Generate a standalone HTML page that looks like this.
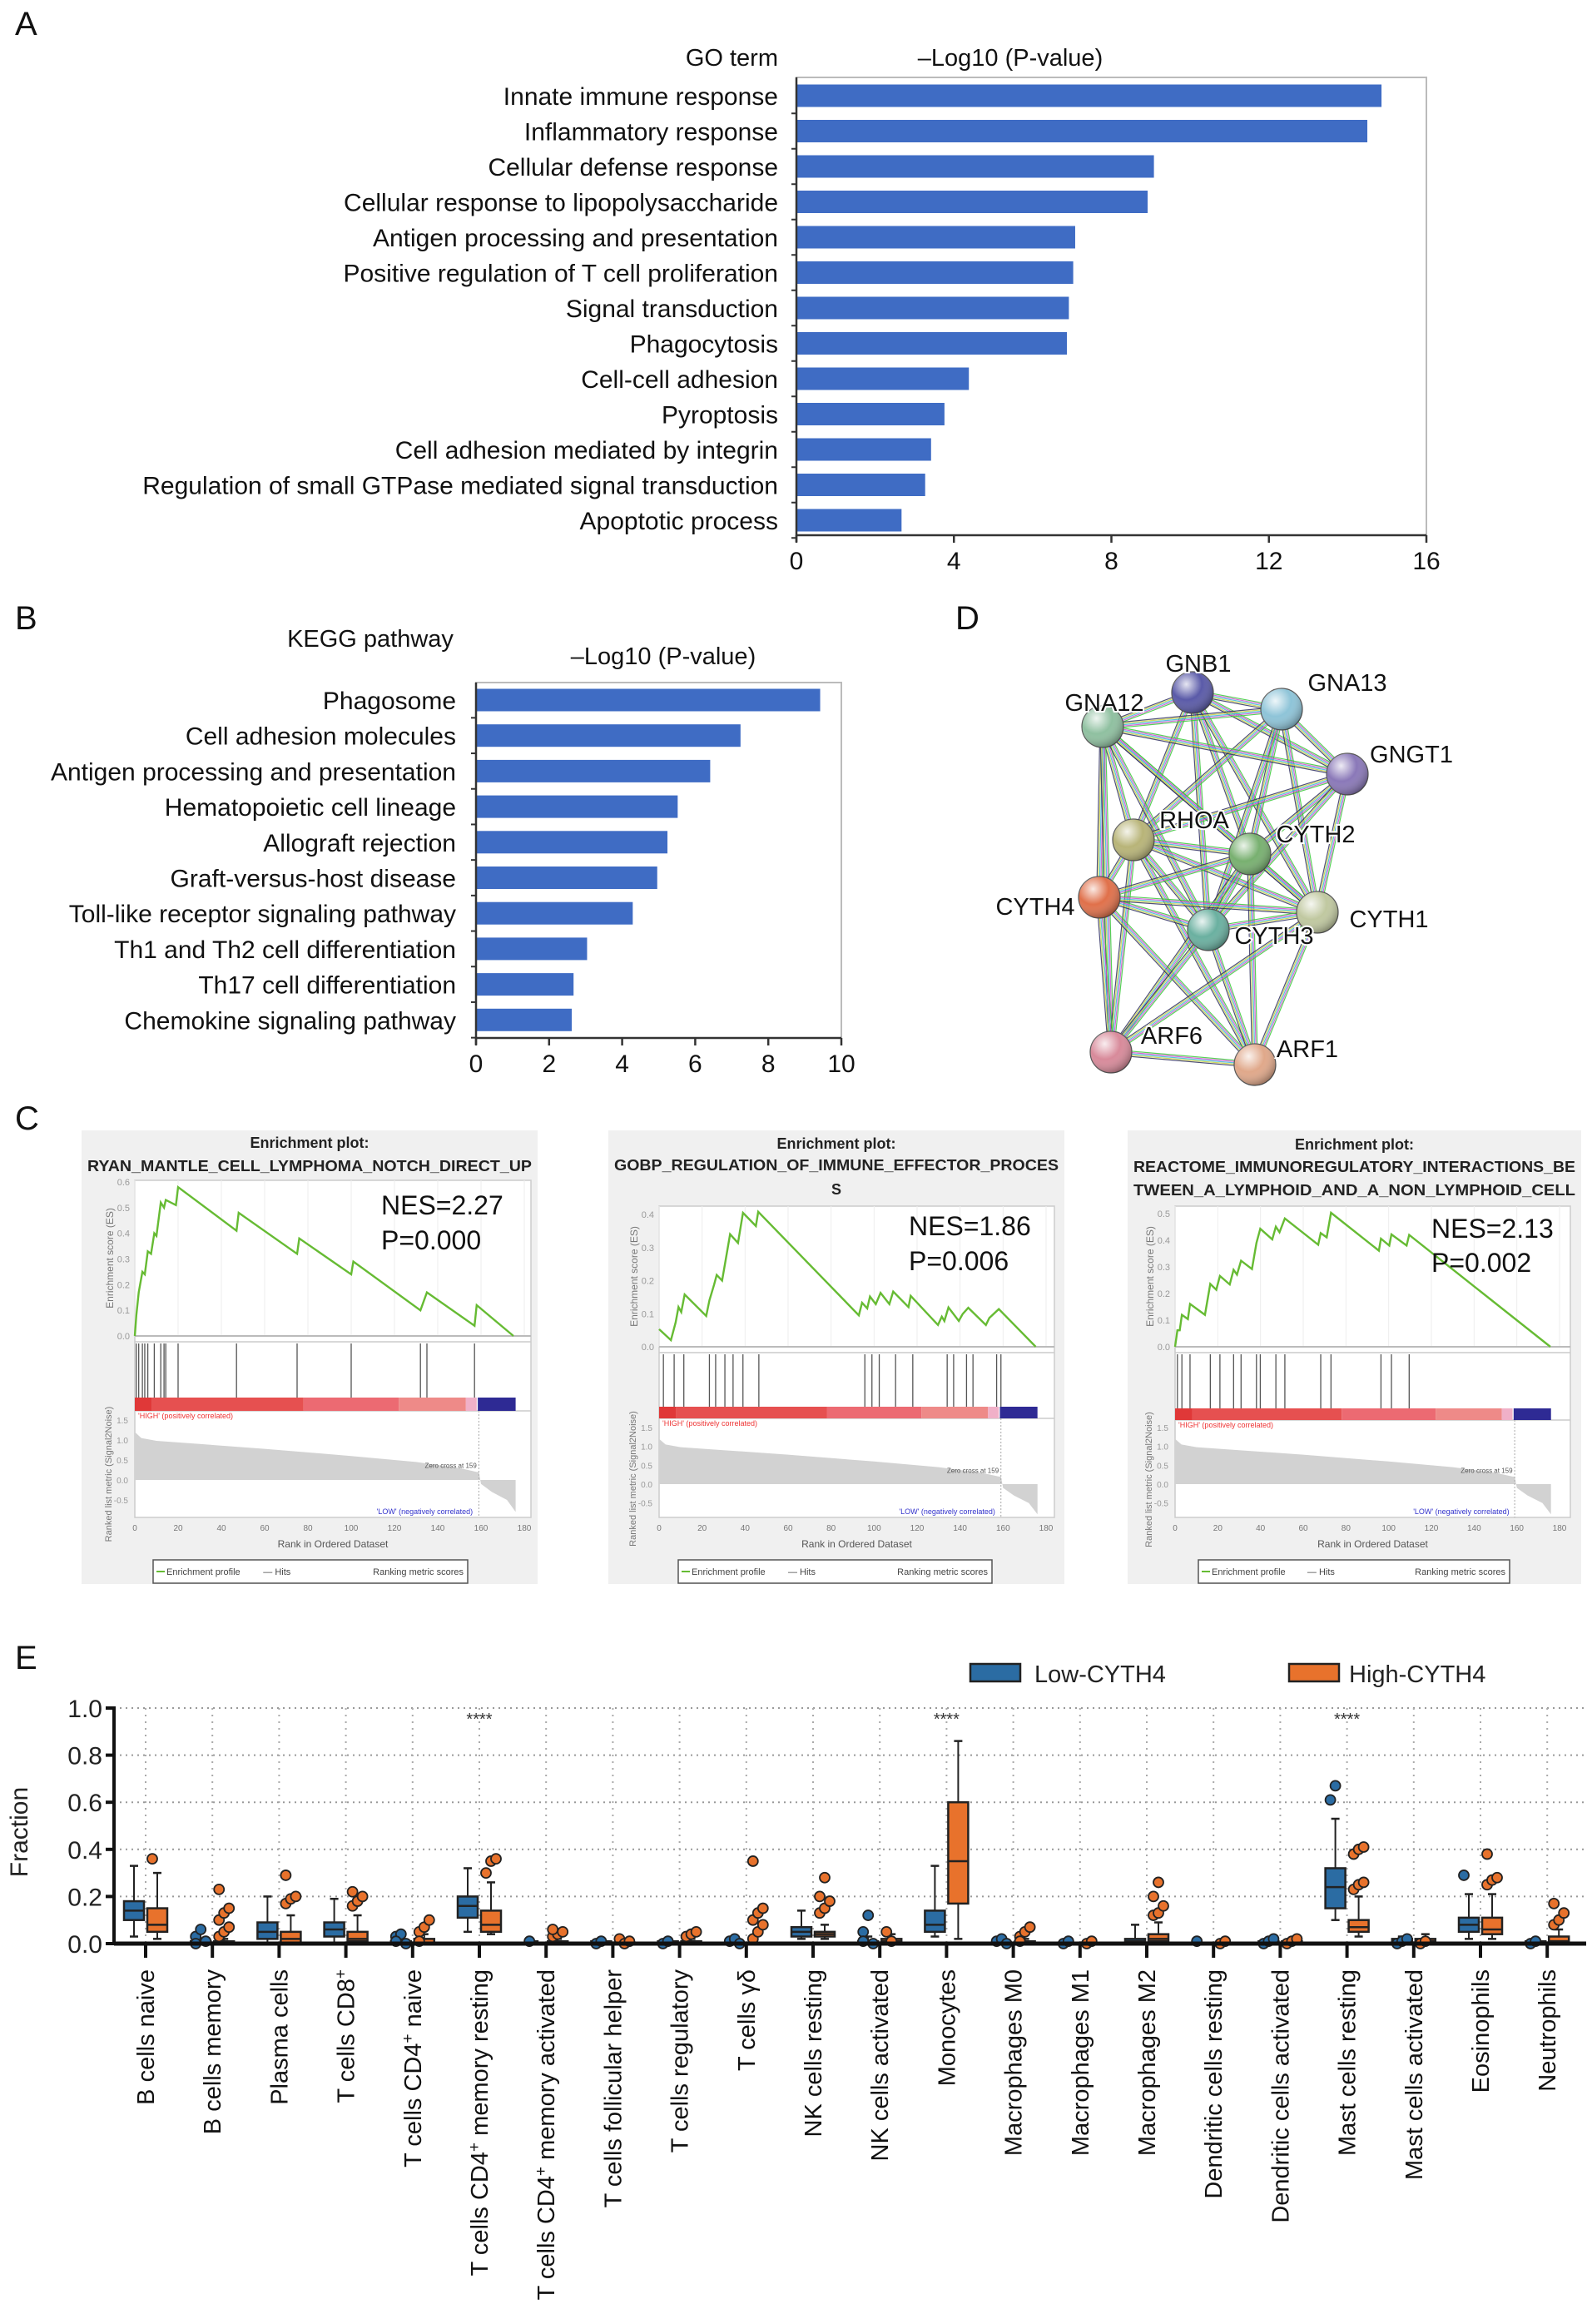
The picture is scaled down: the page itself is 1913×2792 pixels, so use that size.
<!DOCTYPE html>
<html><head><meta charset="utf-8"><style>
html,body{margin:0;padding:0;background:#fff;}
svg{display:block;font-family:"Liberation Sans",Arial,sans-serif;}
</style></head><body>
<svg id="fig" width="1913" height="2792" viewBox="0 0 1913 2792" xmlns="http://www.w3.org/2000/svg">
<defs>
<radialGradient id="gsh" cx="35%" cy="30%" r="75%"><stop offset="0" stop-color="#fff" stop-opacity="0.85"/><stop offset="0.5" stop-color="#fff" stop-opacity="0"/><stop offset="1" stop-color="#000" stop-opacity="0.35"/></radialGradient>
</defs>
<g id="root"></g>
</svg>
<script>
// ---------- Panel A data ----------
const goTerms = ["Innate immune response","Inflammatory response","Cellular defense response","Cellular response to lipopolysaccharide","Antigen processing and presentation","Positive regulation of T cell proliferation","Signal transduction","Phagocytosis","Cell-cell adhesion","Pyroptosis","Cell adhesion mediated by integrin","Regulation of small GTPase mediated signal transduction","Apoptotic process"];
const goValues = [14.86,14.5,9.08,8.92,7.08,7.03,6.92,6.87,4.38,3.76,3.42,3.27,2.67];
const goTicks = [0,4,8,12,16];
// ---------- Panel B data ----------
const keggTerms = ["Phagosome","Cell adhesion molecules","Antigen processing and presentation","Hematopoietic cell lineage","Allograft rejection","Graft-versus-host disease","Toll-like receptor signaling pathway","Th1 and Th2 cell differentiation","Th17 cell differentiation","Chemokine signaling pathway"];
const keggValues = [9.42,7.24,6.41,5.52,5.24,4.96,4.29,3.04,2.67,2.62];
const keggTicks = [0,2,4,6,8,10];
// ---------- Panel C data ----------
const gsea1Ranks = [0,0.7,1.8,3.5,4.6,6,7.5,9,10,12,13.5,14.3,19,20,47,48,75,76,100,101,132,135,157,158,175];
const gsea1ES = [0,0.08,0.17,0.25,0.24,0.33,0.32,0.40,0.39,0.52,0.50,0.53,0.51,0.58,0.41,0.48,0.32,0.38,0.24,0.29,0.10,0.17,0.04,0.12,0];
const gsea1Hits = [0.7,1.8,3.5,4.6,6,9,12,13.5,14.3,20,47,75,100,132,135,157];
const gsea2Ranks = [0,5.5,7.7,9,10.3,11.9,21.9,23.4,25.6,26.8,29.3,33,36.7,39,45,46.1,92.9,94.4,96.8,98.1,100.8,103,107.1,108.9,116,117,129.7,131.5,132.7,134.6,139.4,141.2,143.8,152,153.6,158,175.2];
const gsea2ES = [0.053,0.02,0.074,0.12,0.105,0.158,0.093,0.141,0.188,0.217,0.20,0.34,0.314,0.405,0.365,0.408,0.095,0.133,0.116,0.152,0.129,0.163,0.129,0.167,0.12,0.154,0.066,0.091,0.078,0.119,0.078,0.099,0.118,0.066,0.087,0.114,0];
const gsea2Hits = [2,7,11.5,23.4,26.3,30.6,34.4,39,46.4,95.7,99,102.4,110,118,134,137,143,146,157,159];
const gsea3Ranks = [0,1.1,2.2,3.2,6,7,14,16.5,19.3,21,25.6,27.4,29,30.9,36,38.1,39.9,45.5,47.2,48.9,51.4,67,68.2,71,73,95.4,96.4,100.3,101.3,108.4,109.6,175.7];
const gsea3ES = [0,0.062,0.062,0.12,0.104,0.161,0.12,0.236,0.214,0.266,0.234,0.289,0.271,0.323,0.292,0.39,0.443,0.403,0.451,0.43,0.482,0.383,0.427,0.411,0.503,0.361,0.406,0.38,0.422,0.38,0.42,0];
const gsea3Hits = [1.1,3.2,7,16.5,21,27.4,30.9,38.1,39.9,47.2,51.4,68.2,73,96.4,101.3,109.6];
const metricRanks = [0,3,10,30,60,100,130,150,158,159,160,165,172,176];
const metricVals = [1.2,1.05,0.98,0.9,0.78,0.6,0.45,0.3,0.2,0.2,-0.1,-0.3,-0.5,-0.8];
const rankTicks = [0,20,40,60,80,100,120,140,160,180];
// ---------- Panel E data ----------
const cellTypes = ["B cells naive","B cells memory","Plasma cells","T cells CD8|+|","T cells CD4|+| naive","T cells CD4|+| memory resting","T cells CD4|+| memory activated","T cells follicular helper","T cells regulatory","T cells γδ","NK cells resting","NK cells activated","Monocytes","Macrophages M0","Macrophages M1","Macrophages M2","Dendritic cells resting","Dendritic cells activated","Mast cells resting","Mast cells activated","Eosinophils","Neutrophils"];
// [min,q1,median,q3,max]
const lowStats = [[0.03,0.10,0.14,0.18,0.33],[0,0,0.005,0.01,0.02],[0,0.02,0.05,0.09,0.2],[0,0.03,0.06,0.09,0.19],[0,0,0,0.01,0.02],[0.05,0.11,0.16,0.2,0.32],[0,0,0,0,0.01],[0,0,0,0.01,0.02],[0,0,0,0.01,0.02],[0,0,0,0,0],[0.02,0.03,0.05,0.07,0.14],[0,0,0,0.01,0.03],[0.03,0.05,0.08,0.14,0.33],[0,0,0,0,0],[0,0,0,0,0.01],[0,0,0.01,0.02,0.08],[0,0,0,0,0],[0,0,0,0.01,0.02],[0.1,0.15,0.24,0.32,0.53],[0,0,0.01,0.02,0.03],[0.02,0.05,0.08,0.11,0.21],[0,0,0,0.01,0.02]];
const highStats = [[0.02,0.05,0.08,0.15,0.3],[0,0,0,0.01,0.02],[0,0,0.02,0.05,0.12],[0,0.01,0.02,0.05,0.12],[0,0,0,0.02,0.04],[0.04,0.05,0.08,0.14,0.26],[0,0,0,0.01,0.02],[0,0,0,0.005,0.01],[0,0,0,0.01,0.02],[0,0,0,0,0],[0.02,0.03,0.04,0.05,0.08],[0,0,0.01,0.02,0.04],[0.02,0.17,0.35,0.60,0.86],[0,0,0,0.01,0.02],[0,0,0,0,0.01],[0,0.01,0.02,0.04,0.09],[0,0,0,0,0.01],[0,0,0,0.01,0.02],[0.03,0.05,0.07,0.1,0.2],[0,0,0.01,0.02,0.04],[0.02,0.04,0.06,0.11,0.21],[0,0,0.01,0.03,0.06]];
const lowOut = [[],[0.03,0.06,0.01,0],[],[],[0.03,0.04,0,0.01],[],[0.01],[0,0.01],[0,0.01],[0.01,0.02,0],[],[0.05,0.12,0,0.01],[],[0.01,0.02,0],[0,0.01],[],[0.01],[0,0.01,0.02],[0.61,0.67],[0,0.01,0.02],[0.29],[0,0.01]];
const highOut = [[0.36],[0.03,0.05,0.07,0.1,0.13,0.15,0.23],[0.17,0.19,0.2,0.29],[0.16,0.18,0.2,0.22],[0.05,0.07,0.1,0.01],[0.3,0.35,0.36],[0.03,0.04,0.05,0.06],[0.02,0,0.01],[0.03,0.04,0.05],[0.02,0.05,0.08,0.1,0.13,0.15,0.35],[0.13,0.15,0.18,0.2,0.28],[0.05,0.01],[],[0.03,0.05,0.07,0.01],[0,0.01],[0.12,0.13,0.16,0.2,0.26],[0,0.01],[0,0.01,0.02],[0.23,0.25,0.26,0.38,0.4,0.41],[0,0.01],[0.25,0.27,0.28,0.38],[0.08,0.1,0.13,0.17]];
const sigIdx = [5,12,18];
const fracTicks = [0,0.2,0.4,0.6,0.8,1.0];

const NS="http://www.w3.org/2000/svg";
const root=document.getElementById('root');
function mk(tag,attrs,parent,text){const e=document.createElementNS(NS,tag);for(const k in attrs)e.setAttribute(k,attrs[k]);if(text!==undefined)e.textContent=text;(parent||root).appendChild(e);return e;}
function grp(name){const g=mk('g',{});

return g;}

[["A",18,42],["B",18,756],["D",1148,756],["C",18,1357],["E",18,2005]].forEach(p=>{
  const t=mk('text',{x:p[1],y:p[2],'font-size':40,fill:'#111'},root,p[0]);
  
  
});

function hbar(name,terms,vals,ticks,cfg){
  const g=grp(name);
  const xs=v=>cfg.x0+(v-ticks[0])/(ticks[ticks.length-1]-ticks[0])*(cfg.x1-cfg.x0);
  const ys=i=>cfg.y0+i*cfg.step;
  const fr=mk('rect',{x:cfg.x0,y:cfg.top,width:cfg.x1-cfg.x0,height:cfg.axisY-cfg.top,fill:'none',stroke:'#bbb','stroke-width':2},g);
  
  
  terms.forEach((t,i)=>{
    const b=mk('rect',{x:cfg.x0+1,y:ys(i)-cfg.bh/2,width:xs(vals[i])-cfg.x0-1,height:cfg.bh,fill:'#3f6cc4'},g);
    
    
    const l=mk('text',{x:cfg.labelX,y:ys(i)+11,'font-size':cfg.fs,'text-anchor':'end',fill:'#111'},g,t);
    
    
    const tk=mk('line',{x1:cfg.x0-6,x2:cfg.x0,y1:ys(i)+cfg.step/2,y2:ys(i)+cfg.step/2,stroke:'#333','stroke-width':2},g);
    
    
  });
  const ax=mk('line',{x1:cfg.x0,x2:cfg.x0,y1:cfg.top,y2:cfg.axisY+8,stroke:'#333','stroke-width':2.5},g);
  
  
  const xa=mk('line',{x1:cfg.x0,x2:cfg.x1,y1:cfg.axisY,y2:cfg.axisY,stroke:'#333','stroke-width':2.5},g);
  
  
  ticks.forEach(v=>{
    const tl=mk('line',{x1:xs(v),x2:xs(v),y1:cfg.axisY,y2:cfg.axisY+9,stroke:'#333','stroke-width':2.5},g);
    
    
    const tt=mk('text',{x:xs(v),y:cfg.axisY+41,'font-size':cfg.fs,'text-anchor':'middle',fill:'#111'},g,String(v));
    
    
  });
  return g;
}
hbar('go-bar-chart',goTerms,goValues,goTicks,{x0:957,x1:1714,top:93,axisY:643,y0:115,step:42.5,bh:27,labelX:935,fs:30});
let t;
t=mk('text',{x:935,y:79,'font-size':29,'text-anchor':'end',fill:'#111'},root,'GO term');


t=mk('text',{x:1214,y:79,'font-size':29,'text-anchor':'middle',fill:'#111'},root,'\u2013Log10 (P-value)');



hbar('kegg-bar-chart',keggTerms,keggValues,keggTicks,{x0:572,x1:1011,top:820,axisY:1247,y0:841,step:42.7,bh:27,labelX:548,fs:30});
t=mk('text',{x:445,y:777,'font-size':29,'text-anchor':'middle',fill:'#111'},root,'KEGG pathway');


t=mk('text',{x:797,y:798,'font-size':29,'text-anchor':'middle',fill:'#111'},root,'\u2013Log10 (P-value)');



// ---------- Panel D network ----------
const nodes={GNB1:[1433,832,'#5a5aa8'],GNA13:[1540,852,'#8ec4d8'],GNA12:[1325,873,'#8fc0a0'],GNGT1:[1619,930,'#8a78b8'],RHOA:[1362,1009,'#b8b478'],CYTH2:[1502,1026,'#78b070'],CYTH4:[1321,1078,'#e0704a'],CYTH1:[1583,1096,'#c0c8a0'],CYTH3:[1452,1117,'#6ab0a0'],ARF6:[1335,1264,'#d88a9a'],ARF1:[1508,1279,'#e0a88a']};
const nodeLabels={GNB1:[1440,797],GNA13:[1619,820],GNA12:[1327,844],GNGT1:[1696,906],RHOA:[1435,985],CYTH2:[1581,1002],CYTH4:[1244,1089],CYTH1:[1669,1104],CYTH3:[1531,1124],ARF6:[1408,1244],ARF1:[1571,1260]};
const edges=[["GNB1","GNA13"],["GNB1","GNA12"],["GNB1","GNGT1"],["GNB1","RHOA"],["GNB1","CYTH2"],["GNB1","CYTH3"],["GNB1","CYTH1"],["GNA13","GNA12"],["GNA13","GNGT1"],["GNA13","RHOA"],["GNA13","CYTH2"],["GNA13","CYTH1"],["GNA13","CYTH3"],["GNA12","GNGT1"],["GNA12","RHOA"],["GNA12","CYTH4"],["GNA12","CYTH2"],["GNA12","CYTH3"],["GNA12","ARF6"],["GNA12","CYTH1"],["GNGT1","CYTH2"],["GNGT1","CYTH1"],["GNGT1","RHOA"],["GNGT1","CYTH3"],["RHOA","CYTH2"],["RHOA","CYTH4"],["RHOA","CYTH3"],["RHOA","CYTH1"],["RHOA","ARF6"],["RHOA","ARF1"],["CYTH2","CYTH4"],["CYTH2","CYTH3"],["CYTH2","CYTH1"],["CYTH2","ARF6"],["CYTH2","ARF1"],["CYTH4","CYTH3"],["CYTH4","CYTH1"],["CYTH4","ARF6"],["CYTH4","ARF1"],["CYTH3","CYTH1"],["CYTH3","ARF6"],["CYTH3","ARF1"],["CYTH1","ARF6"],["CYTH1","ARF1"],["ARF6","ARF1"]];
const gD=grp('protein-network');
const ecol=['#39c839','#d04dd0','#3ab8d8','#c8d040','#303060'];
edges.forEach(e=>{
  const a=nodes[e[0]],b=nodes[e[1]];const dx=b[0]-a[0],dy=b[1]-a[1],L=Math.hypot(dx,dy),nx=-dy/L,ny=dx/L;
  ecol.forEach((c,k)=>{const o=(k-2)*1.6;
    const ln=mk('line',{x1:a[0]+nx*o,y1:a[1]+ny*o,x2:b[0]+nx*o,y2:b[1]+ny*o,stroke:c,'stroke-width':1.2,'stroke-opacity':0.85},gD);
    
    
  });
});
for(const k in nodes){const n=nodes[k];
  const c=mk('circle',{cx:n[0],cy:n[1],r:25,fill:n[2],stroke:'#555','stroke-width':1.2},gD);
  
  
  const s=mk('circle',{cx:n[0],cy:n[1],r:25,fill:'url(#gsh)'},gD);
  
  
}
for(const k in nodeLabels){const p=nodeLabels[k];
  const tl=mk('text',{x:p[0],y:p[1]+10,'font-size':29,'text-anchor':'middle',fill:'#111',stroke:'#fff','stroke-width':4,'paint-order':'stroke'},gD,k);
  
  
}

// ---------- Panel C GSEA ----------
function gsea(name,ranks,es,hits,cfg){
  const g=grp(name);
  const xs=r=>cfg.px0+r/180*(cfg.px180-cfg.px0);
  const ys=v=>cfg.es0-v/cfg.esMax*(cfg.es0-cfg.esTopY);
  const ms=v=>cfg.m0-v/1.5*(cfg.m0-cfg.m15);
  let e=mk('rect',{x:cfg.bx0,y:1358,width:cfg.bx1-cfg.bx0,height:545,fill:'#f0f0f0'},g);
  
  
  cfg.title.forEach((s,i)=>{const tt=mk('text',{x:(cfg.bx0+cfg.bx1)/2,y:cfg.titleY[i]+6,'font-size':18,'font-weight':'bold','text-anchor':'middle',fill:'#222'},g,s);
    if(s.length>20){tt.setAttribute('textLength',cfg.bx1-cfg.bx0-14);tt.setAttribute('lengthAdjust','spacingAndGlyphs');}
    
    });
  e=mk('rect',{x:cfg.px0,y:cfg.esTop,width:cfg.pright-cfg.px0,height:cfg.mBot-cfg.esTop,fill:'#fff',stroke:'#ccc','stroke-width':1.5},g);
  
  
  rankTicks.forEach(r=>{const gl=mk('line',{x1:xs(r),x2:xs(r),y1:cfg.esTop,y2:cfg.es0,stroke:'#eee','stroke-width':1},g);
    
    });
  [cfg.es0+7,cfg.barY1].forEach(yv=>{const sl=mk('line',{x1:cfg.px0,x2:cfg.pright,y1:yv,y2:yv,stroke:'#ccc','stroke-width':1.5},g);
    
    });
  e=mk('line',{x1:cfg.px0,x2:cfg.pright,y1:cfg.es0,y2:cfg.es0,stroke:'#bbb','stroke-width':2},g);
  
  
  for(let v=0;v<=cfg.esMax+1e-9;v+=0.1){const tl=mk('text',{x:cfg.px0-6,y:ys(v)+4,'font-size':11,'text-anchor':'end',fill:'#999'},g,v.toFixed(1));
    
    }
  e=mk('text',{transform:`translate(${cfg.px0-26},${(cfg.esTop+cfg.es0)/2}) rotate(-90)`,'font-size':12,'text-anchor':'middle',fill:'#777'},g,'Enrichment score (ES)');
  
  
  const pts=ranks.map((r,i)=>xs(r).toFixed(1)+','+ys(es[i]).toFixed(1)).join(' ');
  e=mk('polyline',{points:pts,fill:'none',stroke:'#66bb33','stroke-width':2.4},g);
  
  
  hits.forEach(h=>{const hl=mk('line',{x1:xs(h),x2:xs(h),y1:cfg.es0+9,y2:cfg.barY0,stroke:'#555','stroke-width':1.3},g);
    
    });
  const segs=[[0,8,'#e03838'],[8,78,'#e65050'],[78,122,'#ec6a72'],[122,153,'#ee8a88'],[153,158,'#f0b0c8'],[158.5,176,'#2e2a94']];
  segs.forEach(s=>{const r=mk('rect',{x:xs(s[0]),y:cfg.barY0,width:xs(s[1])-xs(s[0]),height:cfg.barY1-cfg.barY0,fill:s[2]},g);
    
    });
  e=mk('text',{x:cfg.px0+4,y:cfg.barY1+9,'font-size':9,fill:'#e33'},g,"'HIGH' (positively correlated)");
  
  
  e=mk('text',{x:xs(134),y:cfg.mBot-4,'font-size':9,fill:'#33c','text-anchor':'middle'},g,"'LOW' (negatively correlated)");
  
  
  let mp=xs(metricRanks[0]).toFixed(1)+','+ms(0).toFixed(1);
  metricRanks.forEach((r,i)=>{mp+=' '+xs(r).toFixed(1)+','+ms(metricVals[i]).toFixed(1);});
  mp+=' '+xs(metricRanks[metricRanks.length-1]).toFixed(1)+','+ms(0).toFixed(1);
  e=mk('polygon',{points:mp,fill:'#d2d2d2'},g);
  
  
  e=mk('line',{x1:xs(159),x2:xs(159),y1:cfg.barY1,y2:cfg.mBot,stroke:'#aaa','stroke-width':1,'stroke-dasharray':'2,2'},g);
  
  
  e=mk('text',{x:xs(158),y:ms(0.3),'font-size':8,fill:'#555','text-anchor':'end'},g,'Zero cross at 159');
  
  
  [1.5,1.0,0.5,0.0,-0.5].forEach(v=>{const tl=mk('text',{x:cfg.px0-8,y:ms(v)+4,'font-size':10,'text-anchor':'end',fill:'#999'},g,v.toFixed(1));
    
    });
  e=mk('text',{transform:`translate(${cfg.px0-28},${(cfg.barY0+cfg.mBot)/2+20}) rotate(-90)`,'font-size':11,'text-anchor':'middle',fill:'#777'},g,'Ranked list metric (Signal2Noise)');
  
  
  rankTicks.forEach(r=>{const tl=mk('text',{x:xs(r),y:cfg.mBot+16,'font-size':10,'text-anchor':'middle',fill:'#777'},g,String(r));
    
    });
  e=mk('text',{x:(cfg.px0+cfg.pright)/2,y:cfg.mBot+36,'font-size':12,'text-anchor':'middle',fill:'#555'},g,'Rank in Ordered Dataset');
  
  
  e=mk('rect',{x:cfg.lx0,y:1874,width:cfg.lx1-cfg.lx0,height:28,fill:'#fff',stroke:'#555','stroke-width':1.5},g);
  
  
  const lw=cfg.lx1-cfg.lx0;
  e=mk('line',{x1:cfg.lx0+4,x2:cfg.lx0+14,y1:1888,y2:1888,stroke:'#66bb33','stroke-width':2},g);
  
  
  e=mk('text',{x:cfg.lx0+16,y:1892,'font-size':11,fill:'#444'},g,'Enrichment profile');
  
  
  e=mk('text',{x:cfg.lx0+lw*0.35,y:1892,'font-size':11,fill:'#444'},g,'\u2014 Hits');
  
  
  e=mk('text',{x:cfg.lx1-5,y:1892,'font-size':11,fill:'#444','text-anchor':'end'},g,'Ranking metric scores');
  
  
  e=mk('text',{x:cfg.nesX,y:cfg.nesY,'font-size':32,fill:'#111'},g,cfg.nes);
  
  
  e=mk('text',{x:cfg.nesX,y:cfg.pY,'font-size':32,fill:'#111'},g,cfg.p);
  
  
}
gsea('gsea-plot-ryan',gsea1Ranks,gsea1ES,gsea1Hits,{bx0:98,bx1:646,title:['Enrichment plot:','RYAN_MANTLE_CELL_LYMPHOMA_NOTCH_DIRECT_UP'],titleY:[1373,1401],px0:162,px180:630,pright:638,esTop:1418,esTopY:1420,es0:1605,esMax:0.6,barY0:1679,barY1:1695,m15:1706,m0:1778,mBot:1823,lx0:184,lx1:562,nes:'NES=2.27',p:'P=0.000',nesX:458,nesY:1459,pY:1501});
gsea('gsea-plot-gobp',gsea2Ranks,gsea2ES,gsea2Hits,{bx0:731,bx1:1279,title:['Enrichment plot:','GOBP_REGULATION_OF_IMMUNE_EFFECTOR_PROCES','S'],titleY:[1374,1400,1429],px0:792,px180:1257,pright:1267,esTop:1449,esTopY:1459,es0:1618,esMax:0.4,barY0:1690,barY1:1704,m15:1715,m0:1783,mBot:1823,lx0:815,lx1:1192,nes:'NES=1.86',p:'P=0.006',nesX:1092,nesY:1484,pY:1526});
gsea('gsea-plot-reactome',gsea3Ranks,gsea3ES,gsea3Hits,{bx0:1355,bx1:1900,title:['Enrichment plot:','REACTOME_IMMUNOREGULATORY_INTERACTIONS_BE','TWEEN_A_LYMPHOID_AND_A_NON_LYMPHOID_CELL'],titleY:[1375,1402,1430],px0:1412,px180:1874,pright:1887,esTop:1449,esTopY:1458,es0:1618,esMax:0.5,barY0:1692,barY1:1706,m15:1715,m0:1783,mBot:1823,lx0:1440,lx1:1814,nes:'NES=2.13',p:'P=0.002',nesX:1720,nesY:1487,pY:1528});

// ---------- Panel E box plot ----------
(function(){
  const g=grp('immune-infiltration-boxplot');
  const X0=175,STEP=80.2,AX=137,RIGHT=1906,Y0=2335,Y1=2052;
  const xs=i=>X0+i*STEP;
  const ys=v=>Y0-v*(Y0-Y1);
  let e;
  fracTicks.forEach(v=>{if(v>0){const gl=mk('line',{x1:AX,x2:RIGHT,y1:ys(v),y2:ys(v),stroke:'#999','stroke-width':2,'stroke-dasharray':'2,5'},g);
    
    }
    const tk=mk('line',{x1:AX-10,x2:AX,y1:ys(v),y2:ys(v),stroke:'#111','stroke-width':4},g);
    
    
    const tl=mk('text',{x:AX-14,y:ys(v)+11,'font-size':30,'text-anchor':'end',fill:'#222'},g,v.toFixed(1));
    
    });
  cellTypes.forEach((c,i)=>{const gl=mk('line',{x1:xs(i),x2:xs(i),y1:Y1,y2:Y0,stroke:'#aaa','stroke-width':2,'stroke-dasharray':'2,6'},g);
    
    });
  e=mk('line',{x1:AX,x2:AX,y1:Y1-2,y2:Y0+2,stroke:'#111','stroke-width':4},g);
  
  
  e=mk('text',{transform:`translate(33,2201) rotate(-90)`,'font-size':30,'text-anchor':'middle',fill:'#222'},g,'Fraction');
  
  
  function box(i,st,out,off,col,nm){
    const cx=xs(i)+off,w=24;
    const wl=mk('line',{x1:cx,x2:cx,y1:ys(st[0]),y2:ys(st[4]),stroke:'#222','stroke-width':2},g);
    
    
    [st[0],st[4]].forEach(v=>{const cp=mk('line',{x1:cx-5,x2:cx+5,y1:ys(v),y2:ys(v),stroke:'#222','stroke-width':2.5},g);
      
      });
    const bx=mk('rect',{x:cx-w/2,y:ys(st[3]),width:w,height:Math.max(ys(st[1])-ys(st[3]),1),fill:col,stroke:'#222','stroke-width':2.5},g);
    
    
    const md=mk('line',{x1:cx-w/2,x2:cx+w/2,y1:ys(st[2]),y2:ys(st[2]),stroke:'#222','stroke-width':2.5},g);
    
    
    out.forEach((v,k)=>{const jx=cx+((k%3)-1)*6;
      const d=mk('circle',{cx:jx,cy:ys(v),r:6,fill:col,stroke:'#222','stroke-width':1.8},g);
      
      });
  }
  cellTypes.forEach((c,i)=>{box(i,lowStats[i],lowOut[i],-14,'#2b6ca3','low-cyth4');box(i,highStats[i],highOut[i],14,'#e8722c','high-cyth4');});
  e=mk('line',{x1:AX,x2:RIGHT,y1:Y0,y2:Y0,stroke:'#111','stroke-width':5},g);
  
  
  cellTypes.forEach((c,i)=>{
    const tk=mk('line',{x1:xs(i),x2:xs(i),y1:Y0,y2:Y0+17,stroke:'#111','stroke-width':4},g);
    
    
    const tl=mk('text',{transform:`translate(${xs(i)+10},2366) rotate(-90)`,'font-size':29,'text-anchor':'end',fill:'#111'},g);
    
    
    const parts=c.split('|');
    parts.forEach((p,k)=>{mk('tspan',k===1?{'baseline-shift':'super','font-size':19}:{},tl,p);});
  });
  sigIdx.forEach(i=>{const s=mk('text',{x:xs(i),y:2072,'font-size':20,'text-anchor':'middle',fill:'#333'},g,'****');
    
    });
  [[1166,'#2b6ca3','Low-CYTH4',1243,'legend-low'],[1549,'#e8722c','High-CYTH4',1621,'legend-high']].forEach(L=>{
    const r=mk('rect',{x:L[0],y:1999,width:60,height:21,fill:L[1],stroke:'#222','stroke-width':2.5},g);
    
    
    const tx=mk('text',{x:L[3],y:2021,'font-size':29,fill:'#222'},g,L[2]);
    
    
  });
})();
</script>
</body></html>
